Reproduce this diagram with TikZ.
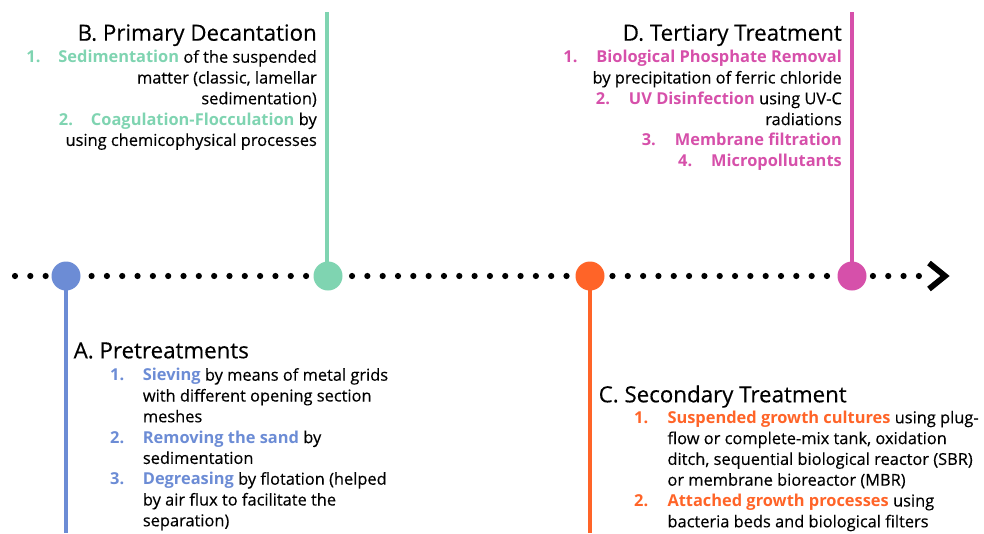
\documentclass[tikz,border=0pt]{standalone}
\usepackage{fontspec}
\setmainfont{Open Sans}[UprightFeatures={FakeBold=0.35}]
\definecolor{cA}{HTML}{6C8CD5}
\definecolor{cB}{HTML}{7FD4B1}
\definecolor{cC}{HTML}{FF6428}
\definecolor{cD}{HTML}{D650AA}
\definecolor{ink}{HTML}{000000}
\begin{document}
\begin{tikzpicture}[x=1pt,y=-1pt,
  title/.style={font=\fontsize{22.3}{26}\selectfont, inner sep=0pt, text=ink},
  body/.style={font=\fontsize{16.4}{20}\selectfont, inner sep=0pt, text=ink},
  num/.style={font=\fontsize{16.4}{20}\selectfont\bfseries, inner sep=0pt},
  stem/.style={line width=4.5pt},
  dot/.style={circle, inner sep=0pt, minimum size=29pt}]
\useasboundingbox (0,0) rectangle (984,533);
% timeline
\coordinate (t0) at (15,276);
\coordinate (t1) at (925,276);
\draw[line width=6.2pt, line cap=round, dash pattern=on 0pt off 15.32pt] (t0) -- (t1);
\coordinate (tip) at (945,276);
\draw[line width=5.8pt, miter limit=10] ([shift={(-16,-13)}]tip) -- (tip) -- ([shift={(-16,13)}]tip);
% stems
\coordinate (sA) at (66,533);
\coordinate (sB) at (327,12);
\coordinate (sC) at (590,533);
\coordinate (sD) at (852,12);
\draw[stem, cA] (66,276) -- (sA);
\draw[stem, cB] (327,276) -- (sB);
\draw[stem, cC] (590,276) -- (sC);
\draw[stem, cD] (852,276) -- (sD);
% circles
\node[dot, fill=cA] (pA) at (66,276) {};
\node[dot, fill=cB] (pB) at (328,276) {};
\node[dot, fill=cC] (pC) at (590,276) {};
\node[dot, fill=cD] (pD) at (852,276) {};

% ---------- B ----------
\node[title, anchor=base east] (Bt) at (317,40.7) {B. Primary Decantation};
\node[body, anchor=base east] (B1) at (317,62.7) {\textcolor{cB}{\bfseries Sedimentation} of the suspended};
\node[num, text=cB, anchor=base west] (B1n) at ([xshift=-32pt]B1.base west) {1.};
\node[body, anchor=base east] (B2) at (317,83.5) {matter (classic, lamellar};
\node[body, anchor=base east] (B3) at (317,104.3) {sedimentation)};
\node[body, anchor=base east] (B4) at (317,125.1) {\textcolor{cB}{\bfseries Coagulation-Flocculation} by};
\node[num, text=cB, anchor=base west] (B4n) at ([xshift=-32pt]B4.base west) {2.};
\node[body, anchor=base east] (B5) at (317,145.9) {using chemicophysical processes};

% ---------- D ----------
\node[title, anchor=base east] (Dt) at (842,40.7) {D. Tertiary Treatment};
\node[body, anchor=base east] (D1) at (842,62.7) {\textcolor{cD}{\bfseries Biological Phosphate Removal}};
\node[num, text=cD, anchor=base west] (D1n) at ([xshift=-33pt]D1.base west) {1.};
\node[body, anchor=base east] (D2) at (842,83.5) {by precipitation of ferric chloride};
\node[body, anchor=base east] (D3) at (842,104.3) {\textcolor{cD}{\bfseries UV Disinfection} using UV-C};
\node[num, text=cD, anchor=base west] (D3n) at ([xshift=-33pt]D3.base west) {2.};
\node[body, anchor=base east] (D4) at (842,125.1) {radiations};
\node[body, anchor=base east] (D5) at (842,145.9) {\textcolor{cD}{\bfseries Membrane filtration}};
\node[num, text=cD, anchor=base west] (D5n) at ([xshift=-33pt]D5.base west) {3.};
\node[body, anchor=base east] (D6) at (842,166.7) {\textcolor{cD}{\bfseries Micropollutants}};
\node[num, text=cD, anchor=base west] (D6n) at ([xshift=-33pt]D6.base west) {4.};

% ---------- A ----------
\node[title, anchor=base west] (At) at (73.5,358.3) {A. Pretreatments};
\node[num, text=cA, anchor=base west] (A1n) at (110,380.7) {1.};
\node[body, anchor=base west] (A1) at (142.7,380.7) {\textcolor{cA}{\bfseries Sieving} by means of metal grids};
\node[body, anchor=base west] (A2) at (142.7,401.5) {with different opening section};
\node[body, anchor=base west] (A3) at (142.7,422.3) {meshes};
\node[num, text=cA, anchor=base west] (A4n) at (110,443.1) {2.};
\node[body, anchor=base west] (A4) at (142.7,443.1) {\textcolor{cA}{\bfseries Removing the sand} by};
\node[body, anchor=base west] (A5) at (142.7,463.9) {sedimentation};
\node[num, text=cA, anchor=base west] (A6n) at (110,484.7) {3.};
\node[body, anchor=base west] (A6) at (142.7,484.7) {\textcolor{cA}{\bfseries Degreasing} by flotation (helped};
\node[body, anchor=base west] (A7) at (142.7,505.5) {by air flux to facilitate the};
\node[body, anchor=base west] (A8) at (142.7,526.3) {separation)};

% ---------- C ----------
\node[title, anchor=base west] (Ct) at (598.5,402.3) {C. Secondary Treatment};
\node[num, text=cC, anchor=base west] (C1n) at (634,423.3) {1.};
\node[body, anchor=base west] (C1) at (667.3,423.3) {\textcolor{cC}{\bfseries Suspended growth cultures} using plug-};
\node[body, anchor=base west] (C2) at (667.3,444.1) {flow or complete-mix tank, oxidation};
\node[body, anchor=base west] (C3) at (667.3,464.9) {ditch, sequential biological reactor (SBR)};
\node[body, anchor=base west] (C4) at (667.3,485.7) {or membrane bioreactor (MBR)};
\node[num, text=cC, anchor=base west] (C5n) at (634,506.5) {2.};
\node[body, anchor=base west] (C5) at (667.3,506.5) {\textcolor{cC}{\bfseries Attached growth processes} using};
\node[body, anchor=base west] (C6) at (667.3,527.3) {bacteria beds and biological filters};
\end{tikzpicture}
\end{document}
